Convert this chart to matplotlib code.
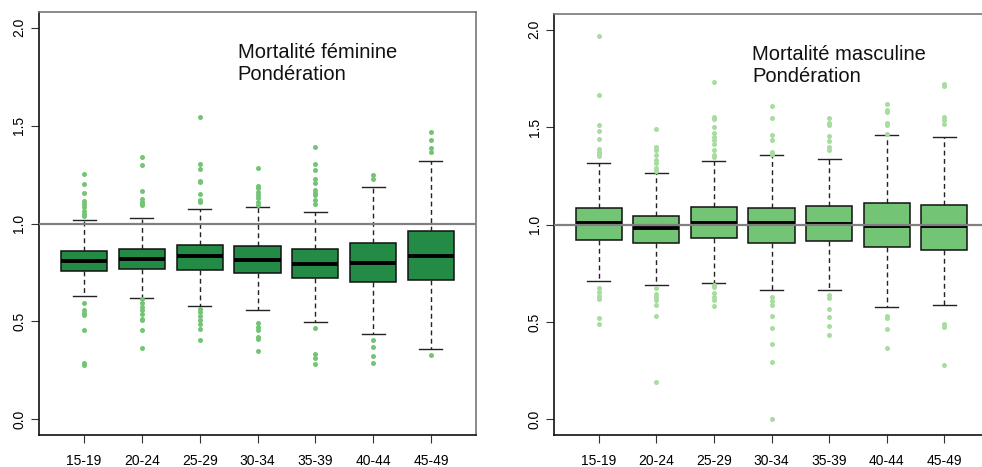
import matplotlib
matplotlib.use('Agg')

import matplotlib.pyplot as plt

plt.rcParams['font.family'] = ['Liberation Sans', 'DejaVu Sans']

# groupes d'âge
ages = ["15-19", "20-24", "25-29", "30-34", "35-39", "40-44", "45-49"]

# mortalité féminine (pondération)
fem_whislo = [0.628, 0.621, 0.580, 0.560, 0.495, 0.437, 0.361]
fem_q1 = [0.755, 0.769, 0.764, 0.747, 0.723, 0.702, 0.713]
fem_med = [0.808, 0.818, 0.832, 0.815, 0.791, 0.796, 0.835]
fem_q3 = [0.861, 0.872, 0.891, 0.883, 0.871, 0.900, 0.964]
fem_whishi = [1.019, 1.027, 1.075, 1.083, 1.058, 1.187, 1.321]
fem_out = [
    [1.253, 1.202, 1.157, 1.116, 1.100, 1.083, 1.063, 1.050, 1.036,
     0.595, 0.556, 0.544, 0.531, 0.458, 0.287, 0.276],
    [1.342, 1.300, 1.165, 1.126, 1.112, 1.100, 1.092,
     0.612, 0.595, 0.573, 0.556, 0.539, 0.514, 0.505, 0.456, 0.366],
    [1.542, 1.304, 1.279, 1.219, 1.211, 1.151, 1.121, 1.109,
     0.565, 0.548, 0.526, 0.505, 0.485, 0.463, 0.407],
    [1.284, 1.194, 1.182, 1.160, 1.143, 1.131, 1.109, 1.097,
     0.491, 0.471, 0.454, 0.420, 0.408, 0.350],
    [1.389, 1.304, 1.274, 1.228, 1.206, 1.172, 1.155, 1.143, 1.121, 1.100,
     0.468, 0.332, 0.315, 0.284],
    [1.250, 1.228, 0.405, 0.371, 0.323, 0.286],
    [1.466, 1.427, 1.386, 1.364, 0.328],
]

# mortalité masculine (pondération)
mas_whislo = [0.710, 0.690, 0.699, 0.665, 0.663, 0.576, 0.586]
mas_q1 = [0.920, 0.903, 0.931, 0.905, 0.914, 0.883, 0.867]
mas_med = [1.009, 0.984, 1.009, 1.009, 1.003, 0.994, 0.994]
mas_q3 = [1.085, 1.045, 1.092, 1.085, 1.095, 1.112, 1.102]
mas_whishi = [1.318, 1.266, 1.326, 1.356, 1.335, 1.457, 1.448]
mas_out = [
    [1.966, 1.662, 1.510, 1.481, 1.438, 1.387, 1.374, 1.362, 1.349,
     0.672, 0.655, 0.634, 0.616, 0.518, 0.487],
    [1.489, 1.397, 1.383, 1.357, 1.332, 1.315, 1.290, 1.275,
     0.675, 0.645, 0.626, 0.612, 0.586, 0.531, 0.192],
    [1.731, 1.554, 1.542, 1.500, 1.469, 1.451, 1.434, 1.414, 1.383, 1.357, 1.345,
     0.689, 0.680, 0.646, 0.629, 0.612, 0.583],
    [1.609, 1.546, 1.457, 1.431, 1.374, 1.362,
     0.627, 0.610, 0.585, 0.533, 0.467, 0.389, 0.297, 0.0],
    [1.546, 1.520, 1.512, 1.455, 1.426, 1.400, 1.383,
     0.637, 0.621, 0.569, 0.523, 0.478, 0.432],
    [1.618, 1.589, 1.577, 1.520, 1.512, 1.465, 0.530, 0.518, 0.466, 0.364],
    [1.722, 1.709, 1.551, 1.537, 1.517, 0.492, 0.475, 0.278],
]

yticks = [0.0, 0.5, 1.0, 1.5, 2.0]


def panel(ax, whislo, q1, med, q3, whishi, out, fill, dots, title):
    stats = []
    for i in range(len(ages)):
        stats.append(dict(whislo=whislo[i], q1=q1[i], med=med[i], q3=q3[i],
                          whishi=whishi[i], fliers=out[i], label=ages[i]))
    pos = list(range(1, len(ages) + 1))
    ax.bxp(stats, positions=pos, widths=0.8, patch_artist=True,
           boxprops=dict(facecolor=fill, edgecolor="#111111", lw=1.1),
           medianprops=dict(color="black", lw=2.8, solid_capstyle="butt"),
           whiskerprops=dict(color="#222222", lw=1, linestyle=(0, (3.5, 2.5))),
           capprops=dict(color="#222222", lw=1),
           flierprops=dict(marker="o", markersize=3.6, markerfacecolor=dots,
                           markeredgecolor=dots, markeredgewidth=0))
    ax.axhline(1.0, color="#808080", lw=1.6, zorder=5)
    ax.set_xlim(0.22, 7.78)
    ax.set_ylim(-0.08, 2.08)
    ax.set_xticks(pos)
    ax.set_xticklabels(ages, fontsize=10)
    ax.set_yticks(yticks)
    ax.set_yticklabels(["%.1f" % v for v in yticks], fontsize=10,
                       rotation=90, va="center")
    ax.tick_params(axis="x", length=5.8, pad=8, color="#333333")
    ax.tick_params(axis="y", length=5.5, pad=3.5, color="#333333")
    ax.spines["left"].set_color("#111111")
    ax.spines["bottom"].set_color("#111111")
    ax.spines["top"].set_color("#777777")
    ax.spines["right"].set_color("#777777")
    for s in ax.spines.values():
        s.set_linewidth(1.2)
    ax.text(0.455, 0.927, title, transform=ax.transAxes, fontsize=14.5,
            va="top", ha="left", color="#111111")


fig = plt.figure(figsize=(9.82, 4.67), dpi=100)
ax1 = fig.add_axes([39 / 982, 32 / 467, 437 / 982, 423 / 467])
ax2 = fig.add_axes([554 / 982, 32 / 467, 435 / 982, 421 / 467])

panel(ax1, fem_whislo, fem_q1, fem_med, fem_q3, fem_whishi, fem_out,
      "#238B45", "#74C476", "Mortalité féminine\nPondération")
panel(ax2, mas_whislo, mas_q1, mas_med, mas_q3, mas_whishi, mas_out,
      "#74C476", "#A8DCA0", "Mortalité masculine\nPondération")

fig.savefig("out.png", dpi=100)
